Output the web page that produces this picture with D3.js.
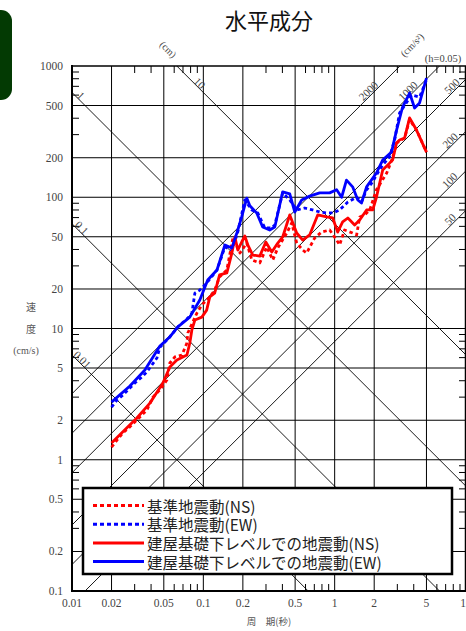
<!DOCTYPE html>
<html>
<head>
<meta charset="utf-8">
<script src="https://cdn.jsdelivr.net/npm/d3@7"></script>
<style>
  body { margin: 0; background: #fff; }
  svg { display: block; }
</style>
</head>
<body>
<script>
// axes
const periodTicks = [0.01, 0.02, 0.05, 0.1, 0.2, 0.5, 1, 2, 5, 10];
const velocityTicks = [0.1, 0.2, 0.5, 1, 2, 5, 10, 20, 50, 100, 200, 500, 1000];
const minorSteps = [3, 4, 6, 7, 8, 9];

// tripartite guide lines: displacement (cm) and acceleration (cm/s2)
const dispLines = [0.01, 0.1, 1, 10];
const dispLabelT = [0.012, 0.0119, 0.0117, 0.094];
const accLines = [50, 100, 200, 500, 1000, 2000];
const accLabelT = [7.55, 7.5, 7.55, 7.8, 3.6, 1.8];

// [period (s), velocity (cm/s)]
const refNS = [
  [0.02, 1.25], [0.022, 1.41], [0.0244, 1.6], [0.0276, 1.78], [0.0329, 2.12], [0.0372, 2.39],
  [0.0413, 3.0], [0.0467, 3.4], [0.0528, 4.05], [0.0556, 5.46], [0.0607, 6.07], [0.0687, 6.28],
  [0.075, 7.76], [0.0762, 9.24], [0.0893, 13.1], [0.0974, 15.1], [0.112, 17.4], [0.122, 19.6],
  [0.133, 24.7], [0.151, 27.9], [0.168, 49], [0.19, 37.6], [0.214, 44.8], [0.234, 33.3],
  [0.269, 31.6], [0.304, 41.8], [0.338, 33.3], [0.369, 41.1], [0.432, 53.4], [0.471, 63.7],
  [0.514, 44.8], [0.571, 39.6], [0.612, 37.6], [0.705, 49], [0.796, 54.3], [0.916, 56.3],
  [1.035, 47.2], [1.09, 43.3], [1.19, 56.3], [1.37, 53.4], [1.47, 51.6], [1.55, 70.8],
  [1.69, 73.3], [1.85, 80], [2.08, 114], [2.49, 153], [2.76, 199], [2.96, 259],
  [3.41, 283], [3.72, 390], [4.2, 325], [5.0, 221]
];
const refEW = [
  [0.02, 2.52], [0.022, 2.85], [0.0244, 3.11], [0.0276, 3.52], [0.0301, 3.84], [0.0341, 4.27],
  [0.0372, 4.67], [0.0406, 5.27], [0.0443, 5.96], [0.0467, 7.2], [0.0556, 8.62], [0.064, 10.3],
  [0.0762, 12.0], [0.0818, 13.1], [0.0862, 18.6], [0.094, 19.6], [0.106, 22.2], [0.127, 27.9],
  [0.146, 41.8], [0.165, 39.6], [0.183, 54.3], [0.207, 95.3], [0.234, 80], [0.26, 75.9],
  [0.294, 58.3], [0.332, 58.3], [0.35, 61.5], [0.402, 108], [0.455, 95.3], [0.514, 80],
  [0.591, 82.8], [0.68, 80], [0.769, 77.2], [0.869, 75.9], [0.966, 75.9], [1.09, 80],
  [1.26, 92], [1.47, 100], [1.6, 92], [1.75, 114], [1.95, 131], [2.08, 148],
  [2.32, 176], [2.62, 203], [2.86, 273], [3.12, 438], [3.85, 601], [4.43, 580], [5.0, 782]
];
const bldNS = [
  [0.02, 1.34], [0.0262, 1.75], [0.0312, 2.08], [0.0392, 2.7], [0.0492, 3.84], [0.0556, 5.09],
  [0.0629, 5.75], [0.075, 6.28], [0.0789, 7.76], [0.0818, 9.75], [0.0862, 11.6], [0.0974, 12.2],
  [0.106, 13.8], [0.112, 17.4], [0.122, 18.6], [0.133, 25.6], [0.151, 26.5], [0.165, 37.6],
  [0.174, 49.8], [0.183, 39.6], [0.196, 45.6], [0.207, 50.7], [0.218, 43.3], [0.238, 36.3],
  [0.269, 35.6], [0.299, 45.6], [0.332, 38.3], [0.369, 44.8], [0.402, 49.8], [0.455, 73.3],
  [0.514, 53.4], [0.571, 47.2], [0.645, 51.6], [0.743, 73.3], [0.869, 70.8], [0.966, 69.5],
  [1.054, 54.3], [1.15, 64.8], [1.26, 69.5], [1.42, 61.5], [1.55, 67.1], [1.75, 80],
  [1.95, 80], [2.08, 100], [2.32, 161], [2.62, 182], [2.76, 192], [2.96, 259],
  [3.12, 273], [3.41, 283], [3.72, 402], [4.2, 325], [5.0, 221]
];
const bldEW = [
  [0.02, 2.75], [0.0276, 3.65], [0.0359, 4.83], [0.0467, 7.36], [0.0556, 8.62], [0.064, 10.3],
  [0.0789, 12.2], [0.094, 16.5], [0.108, 23.4], [0.127, 27.9], [0.146, 43.3], [0.165, 41.1],
  [0.18, 53.4], [0.196, 70.8], [0.214, 98.6], [0.226, 86], [0.255, 75.9], [0.283, 59.4],
  [0.32, 56.3], [0.35, 59.4], [0.402, 110], [0.455, 106], [0.497, 77.2], [0.561, 95.3],
  [0.645, 102], [0.769, 108], [0.916, 108], [1.035, 114], [1.13, 100], [1.23, 135],
  [1.37, 120], [1.5, 95.3], [1.6, 90.4], [1.75, 120], [2.08, 153], [2.32, 192],
  [2.71, 221], [2.96, 325], [3.29, 487], [3.72, 622], [4.06, 479], [4.43, 523], [5.0, 810]
];

const series = [
  { name: "基準地震動(NS)", data: refNS, color: "#ff0000", dash: "3.5,3" },
  { name: "基準地震動(EW)", data: refEW, color: "#0000ff", dash: "3.5,3" },
  { name: "建屋基礎下レベルでの地震動(NS)", data: bldNS, color: "#ff0000", dash: null },
  { name: "建屋基礎下レベルでの地震動(EW)", data: bldEW, color: "#0000ff", dash: null }
];

const width = 466, height = 631;
const plot = { left: 72, right: 466, top: 66, bottom: 591 };
const serif = "'Liberation Serif', 'DejaVu Serif', serif";
const jp = "'Noto Sans CJK JP', sans-serif";

const svg = d3.select("body").append("svg")
  .attr("width", width)
  .attr("height", height);

const x = d3.scaleLog().domain([0.01, 10]).range([plot.left, plot.right]);
const y = d3.scaleLog().domain([0.1, 1000]).range([plot.bottom, plot.top]);

// green tab on the left edge
svg.append("rect")
  .attr("x", -14).attr("y", 10)
  .attr("width", 26).attr("height", 90)
  .attr("rx", 11)
  .attr("fill", "#033a03");

svg.append("text")
  .attr("x", 269).attr("y", 29)
  .attr("text-anchor", "middle")
  .attr("font-family", jp)
  .attr("font-size", "22px")
  .attr("fill", "#111")
  .text("水平成分");

svg.append("defs").append("clipPath").attr("id", "plotClip")
  .append("rect")
  .attr("x", plot.left).attr("y", plot.top)
  .attr("width", plot.right - plot.left).attr("height", plot.bottom - plot.top);

// grid
const grid = svg.append("g").attr("stroke", "#000").attr("stroke-width", 1);
grid.selectAll(".vg")
  .data(periodTicks.slice(1, -1))
  .enter().append("line")
  .attr("x1", d => x(d)).attr("x2", d => x(d))
  .attr("y1", plot.top).attr("y2", plot.bottom);
grid.selectAll(".hg")
  .data(velocityTicks.slice(1, -1))
  .enter().append("line")
  .attr("x1", plot.left).attr("x2", plot.right)
  .attr("y1", d => y(d)).attr("y2", d => y(d));

// minor ticks inside the frame
const minorX = [], minorY = [];
[0.01, 0.1, 1].forEach(b => minorSteps.forEach(m => minorX.push(b * m)));
[0.1, 1, 10, 100].forEach(b => minorSteps.forEach(m => minorY.push(b * m)));
const ticks = svg.append("g").attr("stroke", "#000").attr("stroke-width", 1);
minorX.forEach(t => {
  ticks.append("line").attr("x1", x(t)).attr("x2", x(t)).attr("y1", plot.top).attr("y2", plot.top + 7);
  ticks.append("line").attr("x1", x(t)).attr("x2", x(t)).attr("y1", plot.bottom).attr("y2", plot.bottom - 7);
});
minorY.forEach(v => {
  ticks.append("line").attr("x1", plot.left).attr("x2", plot.left + 7).attr("y1", y(v)).attr("y2", y(v));
  ticks.append("line").attr("x1", plot.right).attr("x2", plot.right - 7).attr("y1", y(v)).attr("y2", y(v));
});

// diagonal guide lines
const TWO_PI = 2 * Math.PI;
const dispSv = (D, T) => TWO_PI * D / T;
const accSv = (A, T) => A * T / TWO_PI;
const guideT = [0.001, 100];
const diag = svg.append("g")
  .attr("clip-path", "url(#plotClip)")
  .attr("stroke", "#000")
  .attr("stroke-width", 0.9)
  .attr("fill", "none");
const guideLine = d3.line().x(d => x(d[0])).y(d => y(d[1]));
diag.selectAll(".disp")
  .data(dispLines)
  .enter().append("path")
  .attr("d", D => guideLine(guideT.map(T => [T, dispSv(D, T)])));
diag.selectAll(".acc")
  .data(accLines)
  .enter().append("path")
  .attr("d", A => guideLine(guideT.map(T => [T, accSv(A, T)])));

const guideLabel = (px, py, angle, txt, size) => {
  svg.append("text")
    .attr("transform", `translate(${px},${py}) rotate(${angle})`)
    .attr("text-anchor", "middle")
    .attr("dominant-baseline", "central")
    .attr("font-family", serif)
    .attr("font-size", size || "11px")
    .attr("fill", "#444")
    .text(txt);
};
dispLines.forEach((D, i) => {
  const T = dispLabelT[i];
  guideLabel(x(T), y(dispSv(D, T)) - 6, 45, D);
});
accLines.forEach((A, i) => {
  const T = accLabelT[i];
  guideLabel(x(T), y(accSv(A, T)) - 7, -45, A);
});
guideLabel(x(0.054), y(dispSv(10, 0.054)) - 8, 45, "(cm)", "10px");
guideLabel(x(3.88), y(accSv(2000, 3.88)) - 9, -45, "(cm/s²)", "10px");
svg.append("text")
  .attr("x", 443).attr("y", 62)
  .attr("text-anchor", "middle")
  .attr("font-family", serif)
  .attr("font-size", "10.5px")
  .attr("fill", "#444")
  .text("(h=0.05)");

// spectra
const specLine = d3.line().x(d => x(d[0])).y(d => y(d[1]));
svg.append("g").attr("clip-path", "url(#plotClip)")
  .selectAll(".spec")
  .data(series)
  .enter().append("path")
  .attr("d", d => specLine(d.data))
  .attr("fill", "none")
  .attr("stroke", d => d.color)
  .attr("stroke-width", 2.8)
  .attr("stroke-dasharray", d => d.dash)
  .attr("stroke-linejoin", "round");

// frame
const frame = svg.append("g").attr("stroke", "#000");
frame.append("line").attr("x1", plot.left).attr("x2", plot.left)
  .attr("y1", plot.top - 1).attr("y2", plot.bottom + 1).attr("stroke-width", 2);
frame.append("line").attr("x1", plot.left - 1).attr("x2", plot.right)
  .attr("y1", plot.bottom).attr("y2", plot.bottom).attr("stroke-width", 2);
frame.append("line").attr("x1", plot.left).attr("x2", plot.right)
  .attr("y1", plot.top).attr("y2", plot.top).attr("stroke-width", 1.6);
frame.append("line").attr("x1", plot.right - 0.5).attr("x2", plot.right - 0.5)
  .attr("y1", plot.top).attr("y2", plot.bottom).attr("stroke-width", 1.5);

// tick labels
svg.append("g").selectAll("text")
  .data(velocityTicks)
  .enter().append("text")
  .attr("x", plot.left - 9)
  .attr("y", d => y(d))
  .attr("text-anchor", "end")
  .attr("dominant-baseline", "central")
  .attr("font-family", serif)
  .attr("font-size", "11.5px")
  .attr("fill", "#444")
  .text(d => d);
svg.append("g").selectAll("text")
  .data(periodTicks)
  .enter().append("text")
  .attr("x", d => x(d))
  .attr("y", plot.bottom + 12)
  .attr("text-anchor", "middle")
  .attr("dominant-baseline", "central")
  .attr("font-family", serif)
  .attr("font-size", "11.5px")
  .attr("fill", "#444")
  .text(d => d);

// axis titles
[["速", 306], ["度", 328]].forEach(([t, yy]) => {
  svg.append("text")
    .attr("x", 31).attr("y", yy)
    .attr("text-anchor", "middle")
    .attr("dominant-baseline", "central")
    .attr("font-family", jp)
    .attr("font-size", "10px")
    .attr("fill", "#555")
    .text(t);
});
svg.append("text")
  .attr("x", 26).attr("y", 350)
  .attr("text-anchor", "middle")
  .attr("dominant-baseline", "central")
  .attr("font-family", serif)
  .attr("font-size", "10px")
  .attr("fill", "#555")
  .text("(cm/s)");
svg.append("text")
  .attr("x", 269).attr("y", 621)
  .attr("text-anchor", "middle")
  .attr("dominant-baseline", "central")
  .attr("font-family", jp)
  .attr("font-size", "9.5px")
  .attr("fill", "#555")
  .text("周　期(秒)");

// legend
const legend = svg.append("g").attr("transform", "translate(83,488)");
legend.append("rect")
  .attr("width", 369).attr("height", 86)
  .attr("fill", "#fff")
  .attr("stroke", "#000")
  .attr("stroke-width", 2.5);
const rows = legend.selectAll(".row")
  .data(series)
  .enter().append("g")
  .attr("transform", (d, i) => `translate(0,${17.5 + i * 18.7})`);
rows.append("line")
  .attr("x1", 10).attr("x2", 61)
  .attr("stroke", d => d.color)
  .attr("stroke-width", 3)
  .attr("stroke-dasharray", d => d.dash ? "4,3" : null);
rows.append("text")
  .attr("x", 64)
  .attr("dominant-baseline", "central")
  .attr("font-family", jp)
  .attr("font-size", "15.5px")
  .attr("fill", "#222")
  .text(d => d.name);
</script>
</body>
</html>
